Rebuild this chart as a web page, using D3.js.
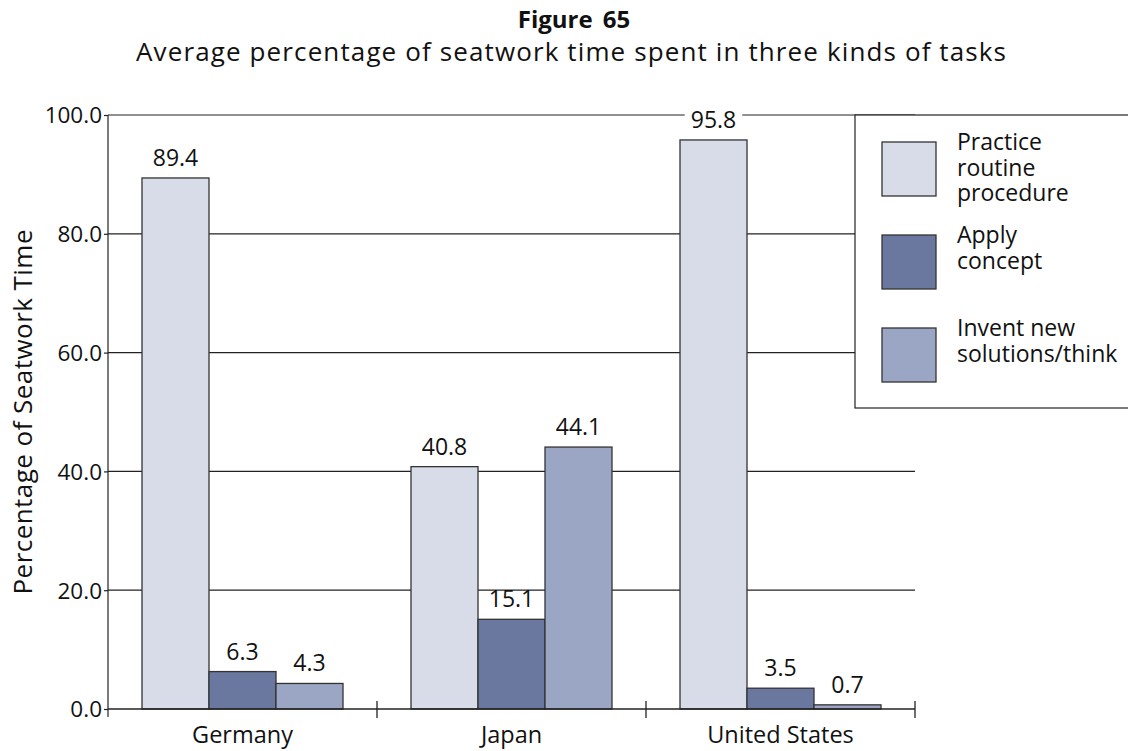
<!DOCTYPE html>
<html><head><meta charset="utf-8">
<script src="https://cdn.jsdelivr.net/npm/d3@7"></script>
<style>body{margin:0;background:#fff}svg{display:block}text{font-family:"Open Sans","Noto Sans",sans-serif;fill:#111}</style>
</head><body>
<svg id="c" width="1128" height="751"></svg>
<script>
const countries = ["Germany", "Japan", "United States"];
const series = ["Practice routine procedure", "Apply concept", "Invent new solutions/think"];
const seriesLines = [["Practice", "routine", "procedure"], ["Apply", "concept"], ["Invent new", "solutions/think"]];
const practice = [89.4, 40.8, 95.8];
const apply = [6.3, 15.1, 3.5];
const invent = [4.3, 44.1, 0.7];
const yTicks = [0, 20, 40, 60, 80, 100];
const colors = ["#d8dce8", "#6a789f", "#9aa6c4"];
const values = [practice, apply, invent];

const svg = d3.select("#c");
const pL = 108, pR = 915, pT = 115, pB = 709;

const x0 = d3.scaleBand().domain(countries).range([pL, pR]).padding(0);
const x1 = d3.scaleBand().domain(series).range([34, x0.bandwidth() - 34]).padding(0);
const y = d3.scaleLinear().domain([0, 100]).range([pB, pT]);

// title
svg.append("text").attr("x", 574).attr("y", 28).attr("text-anchor", "middle")
  .style("font-weight", "bold").style("font-size", "24px").style("word-spacing", "4px").text("Figure 65");
svg.append("text").attr("x", 571).attr("y", 61).attr("text-anchor", "middle")
  .style("font-size", "26px").attr("textLength", 870).attr("lengthAdjust", "spacing")
  .text("Average percentage of seatwork time spent in three kinds of tasks");

// gridlines
svg.append("g").selectAll("line").data(yTicks.filter(d => d > 0)).join("line")
  .attr("x1", pL).attr("x2", pR).attr("y1", d => y(d)).attr("y2", d => y(d))
  .attr("stroke", "#222").attr("stroke-width", 1.2);

// y axis
const yAxis = d3.axisLeft(y).tickValues(yTicks).tickFormat(d3.format(".1f")).tickSize(4).tickPadding(2);
const ga = svg.append("g").attr("transform", `translate(${pL},0)`).call(yAxis);
ga.select(".domain").attr("stroke", "#222").attr("stroke-width", 1.2).attr("d", `M0,${pT}V${pB + 8}`);
ga.selectAll(".tick line").attr("stroke", "#222").attr("stroke-width", 1.2);
ga.selectAll(".tick text").style("font-size", "22.5px").attr("fill", "#111").attr("dy", "0.35em")
  .style("font-family", '"Open Sans","Noto Sans",sans-serif');

// y label
svg.append("text").attr("transform", "translate(32,412) rotate(-90)").attr("text-anchor", "middle")
  .style("font-size", "26px").attr("textLength", 365).attr("lengthAdjust", "spacing").text("Percentage of Seatwork Time");

// bars
const groups = svg.append("g").selectAll("g").data(countries).join("g")
  .attr("transform", d => `translate(${x0(d)},0)`);
series.forEach((s, si) => {
  groups.append("rect")
    .attr("x", x1(s)).attr("width", x1.bandwidth())
    .attr("y", (d, i) => y(values[si][i])).attr("height", (d, i) => y(0) - y(values[si][i]))
    .attr("fill", colors[si]).attr("stroke", "#333").attr("stroke-width", 1.3);
});

// x axis
svg.append("line").attr("x1", pL).attr("x2", pR).attr("y1", pB).attr("y2", pB)
  .attr("stroke", "#222").attr("stroke-width", 1.4);
const bounds = countries.map(c => x0(c) + x0.bandwidth());
svg.append("g").selectAll("line").data(bounds).join("line")
  .attr("x1", d => d).attr("x2", d => d).attr("y1", pB - 8).attr("y2", pB + 9)
  .attr("stroke", "#222").attr("stroke-width", 1.3);
svg.append("g").selectAll("text").data(countries).join("text")
  .attr("x", d => x0(d) + x0.bandwidth() / 2).attr("y", 743).attr("text-anchor", "middle")
  .style("font-size", "23.5px").text(d => d);

// value labels
series.forEach((s, si) => {
  countries.forEach((c, i) => {
    const v = values[si][i];
    const cx = x0(c) + x1(s) + x1.bandwidth() / 2;
    const t = svg.append("text").attr("x", cx).attr("y", y(v) - 12).attr("text-anchor", "middle")
      .style("font-size", "23px").text(d3.format(".1f")(v));
    if (v > 92) {
      const bb = t.node().getBBox();
      svg.insert("rect", () => t.node()).attr("x", bb.x - 6).attr("y", bb.y).attr("width", bb.width + 12)
        .attr("height", bb.height).attr("fill", "#fff");
    }
  });
});

// legend
const lg = svg.append("g");
lg.append("rect").attr("x", 855).attr("y", 115).attr("width", 300).attr("height", 293)
  .attr("fill", "#fff").attr("stroke", "#222").attr("stroke-width", 1.2);
series.forEach((s, si) => {
  const yy = 142 + si * 93;
  lg.append("rect").attr("x", 882).attr("y", yy).attr("width", 54).attr("height", 54)
    .attr("fill", colors[si]).attr("stroke", "#333").attr("stroke-width", 1.3);
  const t = lg.append("text").attr("x", 957).attr("y", yy + 8).style("font-size", "23px");
  seriesLines[si].forEach((ln, li) => {
    t.append("tspan").attr("x", 957).attr("dy", li === 0 ? 0 : 25.5).text(ln);
  });
});
</script>
</body></html>
